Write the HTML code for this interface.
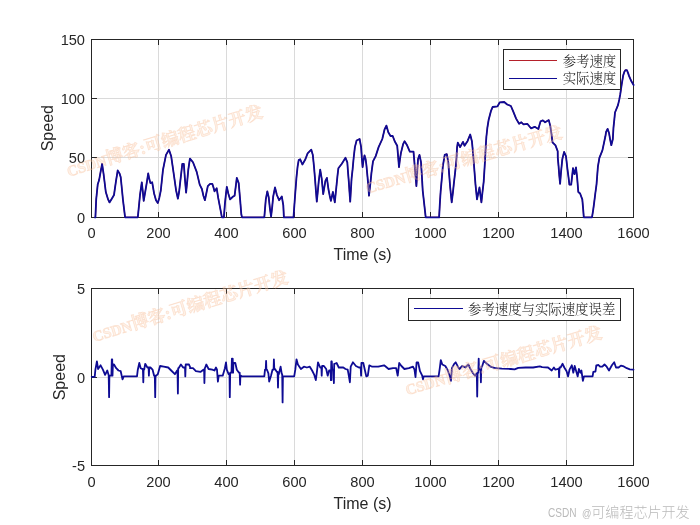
<!DOCTYPE html>
<html lang="zh"><head><meta charset="utf-8"><title>Speed tracking</title>
<style>
html,body{margin:0;padding:0;background:#fff;}
body{width:700px;height:525px;overflow:hidden;}
svg{display:block;}
text{font-family:"Liberation Sans","Noto Sans CJK SC",sans-serif;fill:#262626;}
.g{stroke:#dadada;stroke-width:1;shape-rendering:crispEdges;}
.t{stroke:#262626;stroke-width:1;shape-rendering:crispEdges;}
.bx{fill:none;stroke:#262626;stroke-width:1;shape-rendering:crispEdges;}
.tk{font-size:14.6px;}
.lb{font-size:16px;}
.lg{font-family:"Liberation Serif","Noto Serif CJK SC",serif;font-size:13.4px;font-weight:300;fill:#1a1a1a;}
.lgb{fill:#fff;stroke:#262626;stroke-width:1;shape-rendering:crispEdges;}
.cv{fill:none;stroke:#0e0b94;stroke-width:1.8;stroke-linejoin:round;stroke-linecap:round;}
.cr{fill:none;stroke:#c0161e;stroke-width:1.2;stroke-linejoin:round;}
.wm{font-family:"Liberation Serif","Noto Serif CJK SC",serif;font-size:17.5px;font-weight:bold;fill:#fbd3b4;fill-opacity:.32;stroke:#f4b185;stroke-opacity:.3;stroke-width:.7;}
.cs{font-family:"Liberation Sans","Noto Sans CJK SC",sans-serif;font-size:14px;fill:#bababa;font-weight:300;}
</style></head><body>
<svg width="700" height="525" viewBox="0 0 700 525">
<rect width="700" height="525" fill="#fff"/>
<g id="ax1">
<line x1="158.5" y1="39.5" x2="158.5" y2="217.5" class="g"/>
<line x1="226.5" y1="39.5" x2="226.5" y2="217.5" class="g"/>
<line x1="294.5" y1="39.5" x2="294.5" y2="217.5" class="g"/>
<line x1="362.5" y1="39.5" x2="362.5" y2="217.5" class="g"/>
<line x1="430.5" y1="39.5" x2="430.5" y2="217.5" class="g"/>
<line x1="498.5" y1="39.5" x2="498.5" y2="217.5" class="g"/>
<line x1="566.5" y1="39.5" x2="566.5" y2="217.5" class="g"/>
<line x1="91.5" y1="157.5" x2="633.5" y2="157.5" class="g"/>
<line x1="91.5" y1="98.5" x2="633.5" y2="98.5" class="g"/>
<line x1="91.5" y1="217.5" x2="91.5" y2="212.1" class="t"/>
<line x1="91.5" y1="39.5" x2="91.5" y2="44.9" class="t"/>
<text x="91.5" y="238.2" class="tk" text-anchor="middle">0</text>
<line x1="158.5" y1="217.5" x2="158.5" y2="212.1" class="t"/>
<line x1="158.5" y1="39.5" x2="158.5" y2="44.9" class="t"/>
<text x="158.5" y="238.2" class="tk" text-anchor="middle">200</text>
<line x1="226.5" y1="217.5" x2="226.5" y2="212.1" class="t"/>
<line x1="226.5" y1="39.5" x2="226.5" y2="44.9" class="t"/>
<text x="226.5" y="238.2" class="tk" text-anchor="middle">400</text>
<line x1="294.5" y1="217.5" x2="294.5" y2="212.1" class="t"/>
<line x1="294.5" y1="39.5" x2="294.5" y2="44.9" class="t"/>
<text x="294.5" y="238.2" class="tk" text-anchor="middle">600</text>
<line x1="362.5" y1="217.5" x2="362.5" y2="212.1" class="t"/>
<line x1="362.5" y1="39.5" x2="362.5" y2="44.9" class="t"/>
<text x="362.5" y="238.2" class="tk" text-anchor="middle">800</text>
<line x1="430.5" y1="217.5" x2="430.5" y2="212.1" class="t"/>
<line x1="430.5" y1="39.5" x2="430.5" y2="44.9" class="t"/>
<text x="430.5" y="238.2" class="tk" text-anchor="middle">1000</text>
<line x1="498.5" y1="217.5" x2="498.5" y2="212.1" class="t"/>
<line x1="498.5" y1="39.5" x2="498.5" y2="44.9" class="t"/>
<text x="498.5" y="238.2" class="tk" text-anchor="middle">1200</text>
<line x1="566.5" y1="217.5" x2="566.5" y2="212.1" class="t"/>
<line x1="566.5" y1="39.5" x2="566.5" y2="44.9" class="t"/>
<text x="566.5" y="238.2" class="tk" text-anchor="middle">1400</text>
<line x1="633.5" y1="217.5" x2="633.5" y2="212.1" class="t"/>
<line x1="633.5" y1="39.5" x2="633.5" y2="44.9" class="t"/>
<text x="633.5" y="238.2" class="tk" text-anchor="middle">1600</text>
<line x1="91.5" y1="217.5" x2="96.9" y2="217.5" class="t"/>
<line x1="633.5" y1="217.5" x2="628.1" y2="217.5" class="t"/>
<text x="85.0" y="222.8" class="tk" text-anchor="end">0</text>
<line x1="91.5" y1="157.5" x2="96.9" y2="157.5" class="t"/>
<line x1="633.5" y1="157.5" x2="628.1" y2="157.5" class="t"/>
<text x="85.0" y="162.8" class="tk" text-anchor="end">50</text>
<line x1="91.5" y1="98.5" x2="96.9" y2="98.5" class="t"/>
<line x1="633.5" y1="98.5" x2="628.1" y2="98.5" class="t"/>
<text x="85.0" y="103.8" class="tk" text-anchor="end">100</text>
<line x1="91.5" y1="39.5" x2="96.9" y2="39.5" class="t"/>
<line x1="633.5" y1="39.5" x2="628.1" y2="39.5" class="t"/>
<text x="85.0" y="44.8" class="tk" text-anchor="end">150</text>
<rect x="91.5" y="39.5" width="542.0" height="178.0" class="bx"/>
<path class="cr" d="M95.0 217.4 L95.4 217.4 L96.2 199.4 L97.7 184.6 L99.1 180.1 L100.6 171.9 L102.1 163.8 L103.6 174.2 L105.8 192.0 L108.1 199.4 L109.5 202.4 L111.8 198.7 L114.0 195.0 L115.9 181.6 L117.7 170.5 L119.5 173.4 L120.7 177.1 L121.9 189.0 L122.9 199.4 L125.1 217.4 L137.8 217.4 L139.0 205.4 L140.0 195.0 L141.8 182.3 L142.7 190.5 L143.7 200.9 L145.2 192.0 L146.7 183.1 L148.2 173.4 L149.2 178.6 L150.4 183.1 L152.2 182.3 L154.1 193.5 L156.0 200.2 L157.8 203.1 L159.3 197.9 L160.8 190.5 L163.0 169.7 L166.0 154.9 L169.0 149.7 L171.2 156.3 L174.2 177.1 L176.1 190.5 L177.9 198.7 L179.1 192.0 L180.1 183.1 L181.3 172.7 L182.3 163.8 L183.8 163.8 L184.9 178.6 L186.1 192.7 L187.2 181.6 L188.3 169.7 L189.8 159.3 L190.0 158.6 L193.0 162.3 L196.7 171.9 L199.7 184.6 L201.9 189.0 L203.4 195.7 L204.9 200.2 L206.3 193.5 L207.8 186.1 L210.1 183.8 L212.3 183.8 L213.5 187.5 L214.5 191.3 L216.7 188.3 L218.2 197.9 L220.5 209.8 L221.9 217.4 L223.9 217.4 L224.9 203.9 L226.0 193.5 L226.8 186.8 L228.3 193.5 L230.1 199.4 L233.1 196.5 L234.6 195.7 L235.8 186.1 L236.8 177.9 L238.7 183.1 L240.1 199.4 L241.3 214.3 L242.0 217.4 L264.3 217.4 L265.8 199.4 L267.3 191.3 L268.7 197.2 L269.9 208.3 L271.1 216.5 L272.2 206.9 L273.2 196.5 L275.0 187.5 L276.9 195.0 L279.1 200.2 L281.8 196.5 L283.3 205.4 L283.9 217.4 L293.5 217.4 L295.0 196.5 L296.5 177.1 L297.6 166.7 L298.7 160.1 L300.2 159.3 L302.4 164.5 L305.4 159.3 L307.6 153.4 L311.3 149.7 L312.8 154.9 L314.0 166.7 L315.0 178.6 L315.9 190.5 L316.8 201.7 L317.9 190.5 L318.7 181.6 L320.2 169.7 L321.7 178.6 L322.5 186.8 L323.2 194.2 L324.4 186.8 L325.4 180.9 L326.9 177.9 L328.4 189.0 L329.7 195.7 L330.9 200.9 L332.9 192.0 L334.8 202.4 L335.7 193.5 L336.6 184.6 L337.5 175.7 L338.4 168.2 L341.8 163.8 L345.5 157.8 L347.3 162.3 L348.0 171.9 L348.8 181.6 L349.5 192.0 L350.2 201.7 L351.6 178.3 L352.6 169.4 L353.7 157.5 L354.9 147.1 L356.6 140.5 L359.6 139.0 L361.1 147.1 L361.8 157.5 L362.6 167.2 L363.5 160.5 L364.5 155.3 L365.6 159.0 L366.4 165.0 L368.2 184.3 L369.0 195.7 L370.6 181.3 L371.5 172.4 L373.0 161.3 L375.7 156.1 L378.6 147.1 L382.3 139.0 L384.6 129.3 L386.4 125.6 L388.3 132.3 L390.5 136.0 L392.7 136.0 L394.7 141.2 L397.2 145.7 L398.1 156.1 L399.0 167.2 L400.0 159.0 L400.9 153.1 L403.1 144.2 L404.6 141.2 L406.9 144.9 L409.8 151.6 L413.5 151.6 L414.3 160.8 L415.0 169.7 L416.4 186.1 L417.2 172.7 L418.0 159.3 L419.5 154.9 L421.0 162.3 L421.9 176.4 L422.7 190.5 L424.2 203.9 L425.7 217.4 L439.1 217.4 L439.8 204.6 L440.6 192.0 L441.8 178.6 L442.8 166.7 L444.7 154.9 L446.8 154.1 L448.3 162.3 L449.2 174.9 L450.2 187.5 L451.7 202.4 L452.9 192.7 L453.9 183.1 L455.1 172.7 L456.2 162.3 L457.1 147.1 L457.8 142.7 L460.1 147.1 L463.0 141.9 L464.5 145.7 L467.5 141.2 L470.2 134.5 L471.9 141.2 L472.7 149.4 L473.4 157.5 L475.5 184.6 L477.0 199.4 L478.2 193.5 L479.5 187.5 L480.4 195.0 L481.4 202.4 L482.5 192.0 L483.7 181.6 L484.4 170.5 L485.1 159.3 L485.7 146.9 L486.4 136.5 L487.4 127.5 L488.6 120.1 L490.9 111.2 L492.6 107.0 L497.5 106.4 L499.8 102.3 L504.2 102.0 L507.2 104.5 L510.9 106.0 L513.1 111.2 L516.1 118.6 L519.1 123.8 L521.3 122.3 L523.5 124.3 L527.3 123.8 L531.0 128.3 L534.7 126.8 L538.4 129.0 L539.6 124.6 L540.6 121.3 L542.9 120.4 L545.1 122.3 L548.8 120.1 L550.3 126.1 L551.5 134.2 L552.5 142.4 L555.5 145.4 L557.7 151.3 L557.8 157.8 L558.6 166.7 L559.3 175.7 L560.1 183.8 L561.1 171.2 L562.3 159.3 L564.1 151.9 L566.0 156.3 L567.5 169.7 L568.5 177.1 L569.4 184.6 L571.2 184.6 L572.1 176.4 L573.0 168.2 L574.5 174.2 L576.0 167.5 L577.1 177.1 L578.3 192.0 L580.1 193.5 L582.3 199.4 L583.1 208.3 L583.8 217.4 L592.0 217.4 L593.2 209.8 L594.2 202.4 L595.3 193.5 L596.5 184.6 L597.2 175.7 L597.9 166.7 L599.4 157.8 L602.4 150.4 L604.6 140.0 L605.4 136.3 L606.1 131.8 L607.6 128.9 L609.1 133.3 L610.1 139.3 L611.3 145.2 L612.8 139.3 L613.5 127.4 L614.3 119.9 L615.0 112.5 L618.0 105.1 L619.2 99.9 L620.2 94.7 L621.7 84.3 L623.2 75.4 L624.4 71.7 L625.4 70.2 L626.9 70.2 L628.1 73.1 L629.1 76.1 L631.4 81.3 L633.6 85.0"/>
<path class="cv" d="M95.0 217.4 L95.4 217.4 L96.2 199.4 L97.7 184.6 L99.1 180.1 L100.6 171.9 L102.1 163.8 L103.6 174.2 L105.8 192.0 L108.1 199.4 L109.5 202.4 L111.8 198.7 L114.0 195.0 L115.9 181.6 L117.7 170.5 L119.5 173.4 L120.7 177.1 L121.9 189.0 L122.9 199.4 L125.1 217.4 L137.8 217.4 L139.0 205.4 L140.0 195.0 L141.8 182.3 L142.7 190.5 L143.7 200.9 L145.2 192.0 L146.7 183.1 L148.2 173.4 L149.2 178.6 L150.4 183.1 L152.2 182.3 L154.1 193.5 L156.0 200.2 L157.8 203.1 L159.3 197.9 L160.8 190.5 L163.0 169.7 L166.0 154.9 L169.0 149.7 L171.2 156.3 L174.2 177.1 L176.1 190.5 L177.9 198.7 L179.1 192.0 L180.1 183.1 L181.3 172.7 L182.3 163.8 L183.8 163.8 L184.9 178.6 L186.1 192.7 L187.2 181.6 L188.3 169.7 L189.8 159.3 L190.0 158.6 L193.0 162.3 L196.7 171.9 L199.7 184.6 L201.9 189.0 L203.4 195.7 L204.9 200.2 L206.3 193.5 L207.8 186.1 L210.1 183.8 L212.3 183.8 L213.5 187.5 L214.5 191.3 L216.7 188.3 L218.2 197.9 L220.5 209.8 L221.9 217.4 L223.9 217.4 L224.9 203.9 L226.0 193.5 L226.8 186.8 L228.3 193.5 L230.1 199.4 L233.1 196.5 L234.6 195.7 L235.8 186.1 L236.8 177.9 L238.7 183.1 L240.1 199.4 L241.3 214.3 L242.0 217.4 L264.3 217.4 L265.8 199.4 L267.3 191.3 L268.7 197.2 L269.9 208.3 L271.1 216.5 L272.2 206.9 L273.2 196.5 L275.0 187.5 L276.9 195.0 L279.1 200.2 L281.8 196.5 L283.3 205.4 L283.9 217.4 L293.5 217.4 L295.0 196.5 L296.5 177.1 L297.6 166.7 L298.7 160.1 L300.2 159.3 L302.4 164.5 L305.4 159.3 L307.6 153.4 L311.3 149.7 L312.8 154.9 L314.0 166.7 L315.0 178.6 L315.9 190.5 L316.8 201.7 L317.9 190.5 L318.7 181.6 L320.2 169.7 L321.7 178.6 L322.5 186.8 L323.2 194.2 L324.4 186.8 L325.4 180.9 L326.9 177.9 L328.4 189.0 L329.7 195.7 L330.9 200.9 L332.9 192.0 L334.8 202.4 L335.7 193.5 L336.6 184.6 L337.5 175.7 L338.4 168.2 L341.8 163.8 L345.5 157.8 L347.3 162.3 L348.0 171.9 L348.8 181.6 L349.5 192.0 L350.2 201.7 L351.6 178.3 L352.6 169.4 L353.7 157.5 L354.9 147.1 L356.6 140.5 L359.6 139.0 L361.1 147.1 L361.8 157.5 L362.6 167.2 L363.5 160.5 L364.5 155.3 L365.6 159.0 L366.4 165.0 L368.2 184.3 L369.0 195.7 L370.6 181.3 L371.5 172.4 L373.0 161.3 L375.7 156.1 L378.6 147.1 L382.3 139.0 L384.6 129.3 L386.4 125.6 L388.3 132.3 L390.5 136.0 L392.7 136.0 L394.7 141.2 L397.2 145.7 L398.1 156.1 L399.0 167.2 L400.0 159.0 L400.9 153.1 L403.1 144.2 L404.6 141.2 L406.9 144.9 L409.8 151.6 L413.5 151.6 L414.3 160.8 L415.0 169.7 L416.4 186.1 L417.2 172.7 L418.0 159.3 L419.5 154.9 L421.0 162.3 L421.9 176.4 L422.7 190.5 L424.2 203.9 L425.7 217.4 L439.1 217.4 L439.8 204.6 L440.6 192.0 L441.8 178.6 L442.8 166.7 L444.7 154.9 L446.8 154.1 L448.3 162.3 L449.2 174.9 L450.2 187.5 L451.7 202.4 L452.9 192.7 L453.9 183.1 L455.1 172.7 L456.2 162.3 L457.1 147.1 L457.8 142.7 L460.1 147.1 L463.0 141.9 L464.5 145.7 L467.5 141.2 L470.2 134.5 L471.9 141.2 L472.7 149.4 L473.4 157.5 L475.5 184.6 L477.0 199.4 L478.2 193.5 L479.5 187.5 L480.4 195.0 L481.4 202.4 L482.5 192.0 L483.7 181.6 L484.4 170.5 L485.1 159.3 L485.7 146.9 L486.4 136.5 L487.4 127.5 L488.6 120.1 L490.9 111.2 L492.6 107.0 L497.5 106.4 L499.8 102.3 L504.2 102.0 L507.2 104.5 L510.9 106.0 L513.1 111.2 L516.1 118.6 L519.1 123.8 L521.3 122.3 L523.5 124.3 L527.3 123.8 L531.0 128.3 L534.7 126.8 L538.4 129.0 L539.6 124.6 L540.6 121.3 L542.9 120.4 L545.1 122.3 L548.8 120.1 L550.3 126.1 L551.5 134.2 L552.5 142.4 L555.5 145.4 L557.7 151.3 L557.8 157.8 L558.6 166.7 L559.3 175.7 L560.1 183.8 L561.1 171.2 L562.3 159.3 L564.1 151.9 L566.0 156.3 L567.5 169.7 L568.5 177.1 L569.4 184.6 L571.2 184.6 L572.1 176.4 L573.0 168.2 L574.5 174.2 L576.0 167.5 L577.1 177.1 L578.3 192.0 L580.1 193.5 L582.3 199.4 L583.1 208.3 L583.8 217.4 L592.0 217.4 L593.2 209.8 L594.2 202.4 L595.3 193.5 L596.5 184.6 L597.2 175.7 L597.9 166.7 L599.4 157.8 L602.4 150.4 L604.6 140.0 L605.4 136.3 L606.1 131.8 L607.6 128.9 L609.1 133.3 L610.1 139.3 L611.3 145.2 L612.8 139.3 L613.5 127.4 L614.3 119.9 L615.0 112.5 L618.0 105.1 L619.2 99.9 L620.2 94.7 L621.7 84.3 L623.2 75.4 L624.4 71.7 L625.4 70.2 L626.9 70.2 L628.1 73.1 L629.1 76.1 L631.4 81.3 L633.6 85.0"/>
<text class="lb" x="362.5" y="260" text-anchor="middle">Time (s)</text>
<text class="lb" text-anchor="middle" transform="translate(53.3 128.2) rotate(-90)">Speed</text>
<rect class="lgb" x="503.5" y="49.5" width="117" height="40"/>
<line x1="509" y1="60.5" x2="557" y2="60.5" stroke="#b5202a" stroke-width="1"/>
<line x1="509" y1="78.5" x2="557" y2="78.5" stroke="#0e0b94" stroke-width="1.1"/>
<text class="lg" x="562.7" y="65.8">参考速度</text>
<text class="lg" x="562.7" y="83.3">实际速度</text>
<text class="wm" text-anchor="middle" y="6" transform="translate(164.5 141.1) rotate(-17.0)"><tspan font-size="15">CSDN</tspan>博客:可编程芯片开发</text>
<text class="wm" text-anchor="middle" y="6" transform="translate(463.9 159.7) rotate(-16.0)"><tspan font-size="15">CSDN</tspan>博客:可编程芯片开发</text>
</g>
<g id="ax2">
<line x1="158.5" y1="288.5" x2="158.5" y2="465.5" class="g"/>
<line x1="226.5" y1="288.5" x2="226.5" y2="465.5" class="g"/>
<line x1="294.5" y1="288.5" x2="294.5" y2="465.5" class="g"/>
<line x1="362.5" y1="288.5" x2="362.5" y2="465.5" class="g"/>
<line x1="430.5" y1="288.5" x2="430.5" y2="465.5" class="g"/>
<line x1="498.5" y1="288.5" x2="498.5" y2="465.5" class="g"/>
<line x1="566.5" y1="288.5" x2="566.5" y2="465.5" class="g"/>
<line x1="91.5" y1="377.5" x2="633.5" y2="377.5" class="g"/>
<line x1="91.5" y1="465.5" x2="91.5" y2="460.1" class="t"/>
<line x1="91.5" y1="288.5" x2="91.5" y2="293.9" class="t"/>
<text x="91.5" y="487.1" class="tk" text-anchor="middle">0</text>
<line x1="158.5" y1="465.5" x2="158.5" y2="460.1" class="t"/>
<line x1="158.5" y1="288.5" x2="158.5" y2="293.9" class="t"/>
<text x="158.5" y="487.1" class="tk" text-anchor="middle">200</text>
<line x1="226.5" y1="465.5" x2="226.5" y2="460.1" class="t"/>
<line x1="226.5" y1="288.5" x2="226.5" y2="293.9" class="t"/>
<text x="226.5" y="487.1" class="tk" text-anchor="middle">400</text>
<line x1="294.5" y1="465.5" x2="294.5" y2="460.1" class="t"/>
<line x1="294.5" y1="288.5" x2="294.5" y2="293.9" class="t"/>
<text x="294.5" y="487.1" class="tk" text-anchor="middle">600</text>
<line x1="362.5" y1="465.5" x2="362.5" y2="460.1" class="t"/>
<line x1="362.5" y1="288.5" x2="362.5" y2="293.9" class="t"/>
<text x="362.5" y="487.1" class="tk" text-anchor="middle">800</text>
<line x1="430.5" y1="465.5" x2="430.5" y2="460.1" class="t"/>
<line x1="430.5" y1="288.5" x2="430.5" y2="293.9" class="t"/>
<text x="430.5" y="487.1" class="tk" text-anchor="middle">1000</text>
<line x1="498.5" y1="465.5" x2="498.5" y2="460.1" class="t"/>
<line x1="498.5" y1="288.5" x2="498.5" y2="293.9" class="t"/>
<text x="498.5" y="487.1" class="tk" text-anchor="middle">1200</text>
<line x1="566.5" y1="465.5" x2="566.5" y2="460.1" class="t"/>
<line x1="566.5" y1="288.5" x2="566.5" y2="293.9" class="t"/>
<text x="566.5" y="487.1" class="tk" text-anchor="middle">1400</text>
<line x1="633.5" y1="465.5" x2="633.5" y2="460.1" class="t"/>
<line x1="633.5" y1="288.5" x2="633.5" y2="293.9" class="t"/>
<text x="633.5" y="487.1" class="tk" text-anchor="middle">1600</text>
<line x1="91.5" y1="465.5" x2="96.9" y2="465.5" class="t"/>
<line x1="633.5" y1="465.5" x2="628.1" y2="465.5" class="t"/>
<text x="85.0" y="470.8" class="tk" text-anchor="end">-5</text>
<line x1="91.5" y1="377.5" x2="96.9" y2="377.5" class="t"/>
<line x1="633.5" y1="377.5" x2="628.1" y2="377.5" class="t"/>
<text x="85.0" y="382.8" class="tk" text-anchor="end">0</text>
<line x1="91.5" y1="288.5" x2="96.9" y2="288.5" class="t"/>
<line x1="633.5" y1="288.5" x2="628.1" y2="288.5" class="t"/>
<text x="85.0" y="293.8" class="tk" text-anchor="end">5</text>
<rect x="91.5" y="288.5" width="542.0" height="177.0" class="bx"/>
<path class="cv" d="M91.7 376.8 L94.7 376.8 L95.4 369.7 L96.9 361.5 L98.1 369.0 L100.6 365.3 L102.9 369.7 L105.1 374.9 L107.3 370.5 L108.8 375.7 L108.7 375.7 L109.1 397.2 L109.4 375.7 L110.0 375.7 L111.4 375.7 L111.8 359.3 L112.1 375.7 L112.2 359.3 L112.5 375.7 L112.9 364.5 L114.0 364.5 L116.2 368.2 L118.5 370.5 L120.7 371.2 L122.5 379.4 L123.7 376.4 L137.0 376.4 L137.8 369.7 L139.3 363.0 L140.7 368.2 L142.2 369.0 L142.9 369.0 L143.3 382.3 L143.6 369.7 L144.2 369.7 L145.2 363.8 L147.4 367.5 L148.6 367.5 L148.9 375.7 L149.3 367.5 L150.4 367.5 L152.6 369.7 L154.1 375.7 L154.8 375.7 L155.2 397.2 L155.5 375.7 L156.3 375.7 L157.8 374.2 L160.1 366.0 L163.8 366.7 L168.2 367.5 L171.2 370.5 L174.9 374.2 L177.1 370.5 L177.5 370.5 L177.9 393.5 L178.2 368.2 L178.6 368.2 L180.9 364.5 L183.1 367.5 L185.0 367.5 L185.3 376.4 L185.7 364.5 L186.8 364.5 L189.0 364.5 L190.5 368.2 L190.0 368.2 L193.0 368.2 L195.9 371.2 L200.4 371.9 L203.4 369.7 L204.1 369.7 L204.4 383.1 L204.8 368.2 L204.9 368.2 L206.3 364.5 L208.6 369.0 L212.3 369.7 L214.5 370.5 L216.0 367.5 L217.0 369.7 L217.9 381.6 L218.7 375.7 L222.7 375.7 L224.9 368.2 L226.0 362.3 L226.8 369.7 L228.6 374.2 L229.5 374.2 L229.8 397.2 L230.2 372.7 L230.9 372.7 L231.5 372.7 L231.9 358.6 L232.2 372.7 L232.7 358.6 L233.1 372.7 L233.4 363.0 L235.3 363.0 L236.8 369.7 L239.0 372.7 L239.7 372.7 L240.1 384.6 L240.4 375.7 L241.0 375.7 L242.0 376.4 L264.3 376.4 L265.0 369.7 L265.7 369.7 L266.1 360.8 L266.4 369.7 L267.0 369.7 L268.4 373.4 L269.2 381.6 L271.0 375.7 L272.5 369.7 L273.6 369.7 L273.9 359.3 L274.3 369.0 L275.0 369.0 L276.9 371.9 L277.6 371.9 L278.0 387.5 L278.3 374.2 L278.8 374.2 L280.6 366.7 L281.8 374.2 L282.2 374.2 L282.6 402.4 L282.9 376.4 L283.3 376.4 L292.5 376.4 L292.0 376.4 L294.2 376.4 L295.3 369.7 L296.5 359.3 L297.9 364.5 L300.9 369.0 L303.9 366.7 L306.9 367.5 L309.8 366.7 L312.1 370.5 L314.3 374.9 L315.8 380.1 L316.8 372.7 L318.0 362.3 L320.2 367.5 L321.4 367.5 L321.7 375.7 L322.1 366.0 L323.9 366.0 L326.2 369.0 L327.7 375.7 L329.1 370.5 L330.6 370.5 L330.9 380.1 L331.3 361.5 L331.5 380.1 L331.8 361.5 L332.2 369.7 L332.9 369.7 L333.5 369.7 L333.9 383.1 L334.2 363.8 L334.8 363.8 L336.6 363.0 L338.8 367.5 L343.3 367.5 L345.5 369.0 L347.7 369.7 L348.8 375.7 L349.9 382.3 L350.7 366.7 L352.9 362.3 L355.9 366.0 L358.9 367.5 L360.7 367.5 L361.1 375.7 L361.4 363.0 L363.3 363.0 L364.8 369.7 L366.3 376.4 L367.8 375.7 L369.3 365.3 L372.2 366.7 L378.2 366.7 L384.1 365.3 L388.6 369.0 L393.0 368.2 L394.0 368.2 L396.2 368.2 L397.7 375.7 L399.2 363.0 L401.4 366.0 L404.4 369.0 L408.9 368.2 L413.0 366.7 L414.5 369.7 L415.5 377.1 L416.6 362.3 L418.1 362.3 L420.0 371.2 L422.2 375.7 L423.0 379.4 L423.7 376.4 L438.6 376.4 L439.8 368.2 L440.8 360.1 L442.3 364.5 L445.3 366.0 L447.5 369.7 L449.7 375.7 L450.9 380.9 L451.9 368.2 L454.2 363.8 L455.7 362.3 L457.9 366.7 L459.4 369.0 L462.3 366.0 L465.3 367.5 L468.3 364.5 L470.5 369.0 L472.7 372.7 L475.0 375.7 L476.5 373.4 L476.8 373.4 L477.2 396.5 L477.6 372.7 L477.9 372.7 L478.3 372.7 L478.7 358.6 L479.0 369.7 L479.9 369.7 L480.6 369.7 L480.9 382.3 L481.3 366.7 L482.0 366.7 L483.9 360.8 L486.9 363.8 L490.6 366.7 L495.0 368.2 L496.0 368.2 L501.9 368.7 L510.9 369.0 L514.6 369.4 L518.3 367.9 L525.7 367.5 L533.1 367.5 L539.8 366.4 L542.1 367.2 L548.0 367.5 L551.7 370.5 L553.9 367.5 L555.4 369.7 L557.7 369.0 L558.8 369.0 L559.1 377.1 L559.5 367.5 L560.6 367.5 L562.6 363.8 L564.3 367.5 L566.6 371.2 L568.1 376.4 L569.5 369.7 L571.8 365.3 L573.3 372.7 L574.7 366.0 L576.2 371.2 L577.7 376.4 L578.9 369.0 L580.4 372.7 L581.4 370.5 L582.9 380.9 L584.0 376.4 L592.6 376.4 L593.3 371.9 L595.5 371.5 L596.3 365.3 L598.5 365.0 L600.1 366.7 L602.3 366.7 L604.5 364.5 L606.7 366.7 L609.0 370.5 L611.9 365.3 L614.2 362.3 L616.0 367.5 L618.6 367.5 L620.9 365.6 L623.8 366.4 L626.8 368.2 L629.8 369.3 L633.5 369.7"/>
<text class="lb" x="362.5" y="509" text-anchor="middle">Time (s)</text>
<text class="lb" text-anchor="middle" transform="translate(65.3 377.2) rotate(-90)">Speed</text>
<rect class="lgb" x="408.5" y="298.5" width="212" height="22"/>
<line x1="414" y1="308.5" x2="463" y2="308.5" stroke="#0e0b94" stroke-width="1.1"/>
<text class="lg" x="468" y="313.7">参考速度与实际速度误差</text>
<text class="wm" text-anchor="middle" y="6" transform="translate(190.0 306.4) rotate(-17.0)"><tspan font-size="15">CSDN</tspan>博客:可编程芯片开发</text>
<text class="wm" text-anchor="middle" y="6" transform="translate(503.5 360.8) rotate(-16.3)"><tspan font-size="15">CSDN</tspan>博客:可编程芯片开发</text>
</g>
<text class="cs" y="516.7"><tspan x="548" font-size="12.7" textLength="28.6" lengthAdjust="spacingAndGlyphs">CSDN</tspan> <tspan x="582" font-size="11" textLength="9.4" lengthAdjust="spacingAndGlyphs">@</tspan><tspan x="591.3" font-size="14.05">可编程芯片开发</tspan></text>
</svg></body></html>
